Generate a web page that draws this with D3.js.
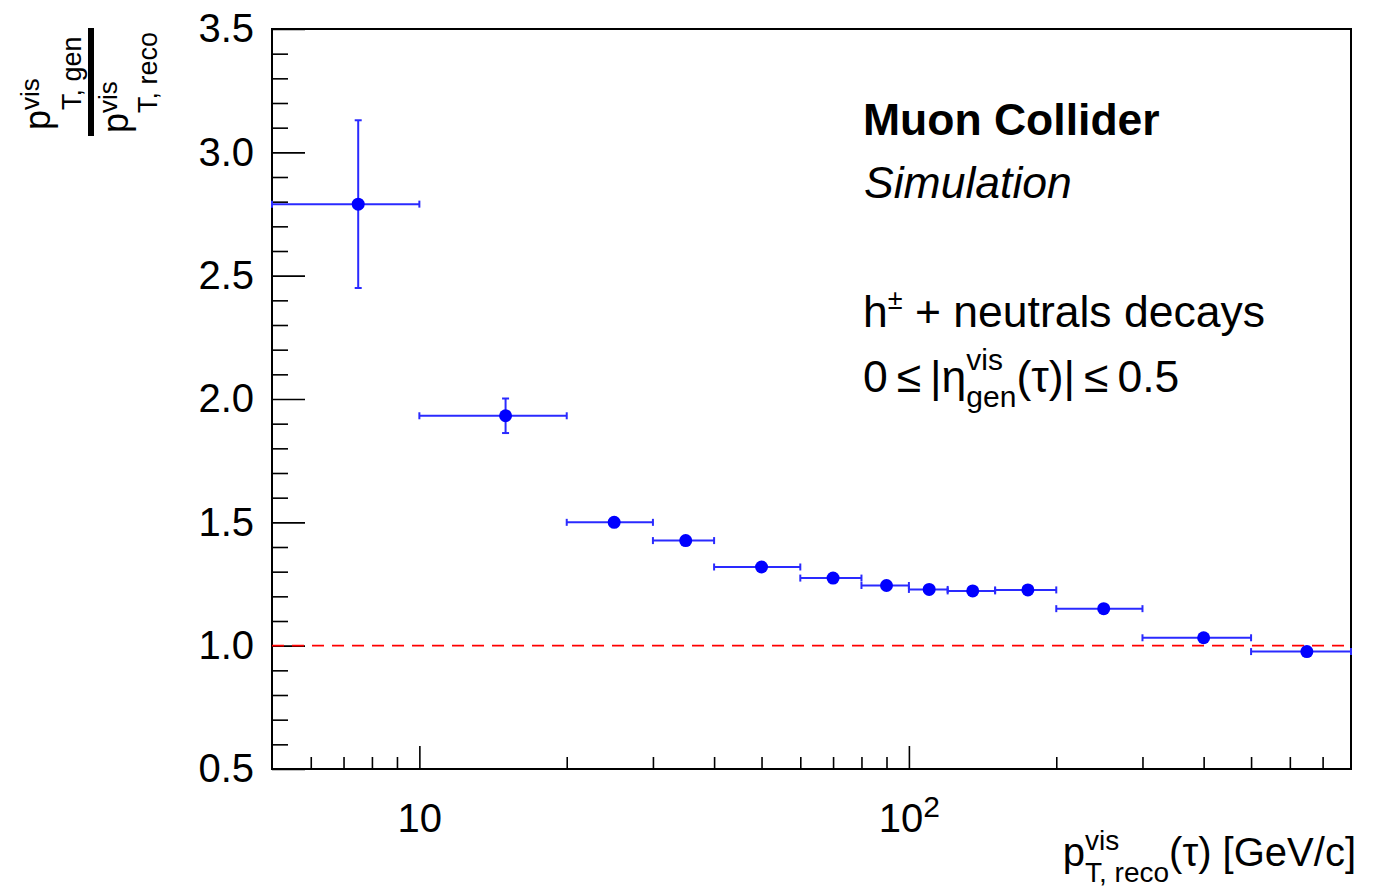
<!DOCTYPE html>
<html>
<head>
<meta charset="utf-8">
<script src="https://cdn.jsdelivr.net/npm/d3@7"></script>
<style>
  body { margin: 0; background: #fff; }
  svg { display: block; }
</style>
</head>
<body>
<svg width="1386" height="895"></svg>
<script>
// bins in pT(reco) [GeV/c] and the gen/reco ratio per bin
const binLo = [5, 10, 20, 30, 40, 60, 80, 100, 120, 150, 200, 300, 500];
const binHi = [10, 20, 30, 40, 60, 80, 100, 120, 150, 200, 300, 500, 800];
const ratio = [2.79, 1.932, 1.500, 1.426, 1.319, 1.274, 1.244, 1.228, 1.222, 1.226, 1.150, 1.032, 0.976];
const ratioErr = [0.34, 0.07, 0.012, 0.010, 0.008, 0.007, 0.007, 0.007, 0.006, 0.006, 0.006, 0.006, 0.007];

const yMajor = [0.5, 1.0, 1.5, 2.0, 2.5, 3.0, 3.5];
const yMinor = d3.range(6, 35).map((d) => d / 10).filter((d) => Math.round(d * 10) % 5 !== 0);
const xMajor = [10, 100];
const xMinor = [6, 7, 8, 9, 20, 30, 40, 50, 60, 70, 80, 90, 200, 300, 400, 500, 600, 700];

const FONT = '"Liberation Sans", Arial, Helvetica, sans-serif';
const svg = d3.select('svg');
const frame = { left: 272, right: 1351, top: 29, bottom: 769 };

const x = d3.scaleLog().domain([5, 800]).range([frame.left, frame.right]);
const y = d3.scaleLinear().domain([0.5, 3.5]).range([frame.bottom, frame.top]);

svg.append('rect').attr('width', 1386).attr('height', 895).attr('fill', '#fff');

// y axis
const gy = svg.append('g').attr('transform', `translate(${frame.left},0)`);
gy.call(d3.axisLeft(y).tickValues(yMajor).tickFormat(d3.format('.1f'))
  .tickSizeInner(-33).tickSizeOuter(0).tickPadding(18));
gy.append('g').call(d3.axisLeft(y).tickValues(yMinor).tickFormat('').tickSizeInner(-16).tickSizeOuter(0));

// x axis
const gx = svg.append('g').attr('transform', `translate(0,${frame.bottom})`);
gx.call(d3.axisBottom(x).tickValues(xMajor).tickFormat(() => '10')
  .tickSizeInner(-23).tickSizeOuter(0).tickPadding(35));
gx.append('g').call(d3.axisBottom(x).tickValues(xMinor).tickFormat('').tickSizeInner(-12).tickSizeOuter(0));
gx.selectAll('.tick text').filter((d) => d === 100)
  .append('tspan').attr('dy', '-0.5em').attr('font-size', 30).text('2');

svg.selectAll('.domain').remove();
svg.selectAll('.tick line').attr('stroke', '#000').attr('stroke-width', 1.6);
svg.selectAll('.tick text').attr('font-family', FONT).attr('font-size', 40).attr('fill', '#000');

// frame
svg.append('rect')
  .attr('x', frame.left).attr('y', frame.top)
  .attr('width', frame.right - frame.left).attr('height', frame.bottom - frame.top)
  .attr('fill', 'none').attr('stroke', '#000').attr('stroke-width', 2);

// reference line at 1
svg.append('line')
  .attr('x1', frame.left).attr('x2', frame.right)
  .attr('y1', y(1)).attr('y2', y(1))
  .attr('stroke', '#ff0000').attr('stroke-width', 1.6).attr('stroke-dasharray', '12,8');

// points with error bars
const pts = binLo.map((lo, i) => ({ lo, hi: binHi[i], c: (lo + binHi[i]) / 2, v: ratio[i], e: ratioErr[i] }));
const blue = '#2a2aff';
const cap = 3.5;
const eb = svg.append('g').attr('stroke', blue).attr('stroke-width', 2).attr('fill', 'none');
pts.forEach((d) => {
  eb.append('line').attr('x1', x(d.lo)).attr('x2', x(d.hi)).attr('y1', y(d.v)).attr('y2', y(d.v));
  eb.append('line').attr('x1', x(d.lo)).attr('x2', x(d.lo)).attr('y1', y(d.v) - cap).attr('y2', y(d.v) + cap);
  eb.append('line').attr('x1', x(d.hi)).attr('x2', x(d.hi)).attr('y1', y(d.v) - cap).attr('y2', y(d.v) + cap);
  eb.append('line').attr('x1', x(d.c)).attr('x2', x(d.c)).attr('y1', y(d.v + d.e)).attr('y2', y(d.v - d.e));
  eb.append('line').attr('x1', x(d.c) - cap).attr('x2', x(d.c) + cap).attr('y1', y(d.v + d.e)).attr('y2', y(d.v + d.e));
  eb.append('line').attr('x1', x(d.c) - cap).attr('x2', x(d.c) + cap).attr('y1', y(d.v - d.e)).attr('y2', y(d.v - d.e));
});
svg.append('g').selectAll('circle').data(pts).join('circle')
  .attr('cx', (d) => x(d.c)).attr('cy', (d) => y(d.v)).attr('r', 6.5).attr('fill', '#0000ff');

// little TLatex-like helper: parts advance left to right, {stack:[..]} share one x
function rich(parent, parts) {
  const t = parent.append('text').attr('font-family', FONT).attr('fill', '#000');
  let cx = 0;
  parts.forEach((p) => {
    const items = p.stack ? p.stack : [p];
    let w = 0;
    items.forEach((it) => {
      const s = t.append('tspan').attr('x', cx).attr('y', it.dy || 0).attr('font-size', it.s).text(it.t);
      if (it.b) s.attr('font-weight', 'bold');
      if (it.i) s.attr('font-style', 'italic');
      w = Math.max(w, s.node().getComputedTextLength());
    });
    cx += w;
  });
  return { t, width: cx };
}

// legend text
const L = 44.5;
rich(svg, [{ t: 'Muon Collider', s: L, b: true }]).t.attr('transform', 'translate(863,135)');
rich(svg, [{ t: 'Simulation', s: L, i: true }]).t.attr('transform', 'translate(864,198)');
rich(svg, [
  { t: 'h', s: L },
  { t: '±', s: 27, dy: -18 },
  { t: ' + neutrals decays', s: L }
]).t.attr('transform', 'translate(863,327)');
rich(svg, [
  { t: '0\u2009≤\u2009|η', s: L },
  { stack: [{ t: 'vis', s: 30, dy: -22 }, { t: 'gen', s: 30, dy: 15 }] },
  { t: '(τ)|\u2009≤\u20090.5', s: L }
]).t.attr('transform', 'translate(863,392)');

// x title, right aligned
const xt = rich(svg, [
  { t: 'p', s: 40 },
  { stack: [{ t: 'vis', s: 28, dy: -16 }, { t: 'T, reco', s: 28, dy: 16 }] },
  { t: '(τ) [GeV/c]', s: 40 }
]);
xt.t.attr('transform', `translate(${1356 - xt.width},866)`);

// y title: rotated fraction
const yt = svg.append('g').attr('transform', 'rotate(-90)');
rich(yt, [
  { t: 'p', s: 36 },
  { stack: [{ t: 'vis', s: 26, dy: -11 }, { t: 'T, gen', s: 27, dy: 31 }] }
]).t.attr('transform', 'translate(-130,50)');
yt.append('rect').attr('x', -136).attr('y', 88).attr('width', 108).attr('height', 6).attr('fill', '#000');
rich(yt, [
  { t: 'p', s: 36 },
  { stack: [{ t: 'vis', s: 26, dy: -11 }, { t: 'T, reco', s: 27, dy: 29 }] }
]).t.attr('transform', 'translate(-133,128)');
</script>
</body>
</html>
